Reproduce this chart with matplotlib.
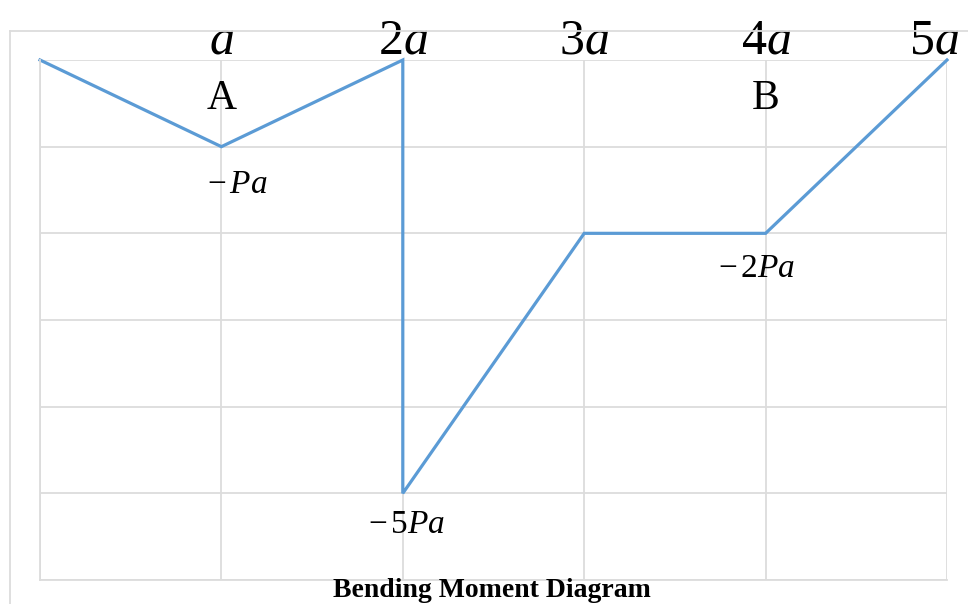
import matplotlib
matplotlib.use('Agg')
import matplotlib.pyplot as plt
from matplotlib.lines import Line2D

# bending moment along the beam (x in units of a, M in units of Pa)
x_pos = [0, 1, 2, 2, 3, 4, 5]
moment = [0, -1, 0, -5, -2, -2, 0]

span_labels = ['a', '2a', '3a', '4a', '5a']
support_names = ['A', 'B']
support_x = [1, 4]
value_labels = [r'$-\,Pa$', r'$-\,5Pa$', r'$-\,2Pa$']
value_x = [1, 2, 4]
value_m = [-1, -5, -2]

SERIF = 'Liberation Serif'
BLUE = '#5b9bd5'
GRID = '#dcdcdc'


def draw_frame(fig):
    # chart-area border (only the left and top edges are visible)
    fig.add_artist(Line2D([10 / 968, 10 / 968], [0, 1 - 31 / 604], color=GRID, lw=1.3))
    fig.add_artist(Line2D([10 / 968, 1], [1 - 31 / 604, 1 - 31 / 604], color=GRID, lw=1.3))


def plot_diagram():
    fig = plt.figure(figsize=(9.68, 6.04), dpi=100)
    ax = fig.add_axes([40 / 968, 24 / 604, 907 / 968, 520 / 604])
    draw_frame(fig)

    ax.set_xlim(0, 5)
    ax.set_ylim(-6, 0)
    ax.set_xticks(range(6))
    ax.set_yticks(range(-6, 1))
    ax.grid(True, color=GRID, lw=1.3)
    ax.tick_params(length=0, labelbottom=False, labelleft=False)
    for s in ax.spines.values():
        s.set_color(GRID)
        s.set_linewidth(1.3)
    ax.spines['right'].set_visible(False)
    ax.spines['top'].set_visible(False)
    ax.set_axisbelow(True)

    ax.plot(x_pos, moment, color=BLUE, lw=2.3, solid_joinstyle='miter', clip_on=False)

    for i, lab in enumerate(span_labels):
        xx = i + 1
        if i == len(span_labels) - 1:
            xx = 4.93
        num, sym = lab[:-1], lab[-1]
        txt = num + r'$\mathit{' + sym + '}$' if num else r'$\mathit{' + sym + '}$'
        ax.text(xx, 0.08, txt, ha='center', va='baseline', fontsize=36,
                family=SERIF, clip_on=False)

    for name, xs in zip(support_names, support_x):
        ax.text(xs, -0.56, name, ha='center', va='baseline', fontsize=30,
                family=SERIF)

    offs = {1: (0.09, -0.53), 2: (0.02, -0.46), 4: (-0.05, -0.5)}
    for lab, xs, ms in zip(value_labels, value_x, value_m):
        dx, dy = offs[xs]
        ax.text(xs + dx, ms + dy, lab, ha='center', va='baseline', fontsize=24,
                family=SERIF)

    fig.text(492 / 968, 1 - 597 / 604, 'Bending Moment Diagram', ha='center',
             va='baseline', fontsize=20, family=SERIF, weight='bold')

    fig.savefig('out.png', dpi=100)


if __name__ == "__main__":
    plt.rcParams['mathtext.fontset'] = 'custom'
    plt.rcParams['mathtext.it'] = 'Liberation Serif:italic'
    plt.rcParams['mathtext.rm'] = 'Liberation Serif'
    plot_diagram()
